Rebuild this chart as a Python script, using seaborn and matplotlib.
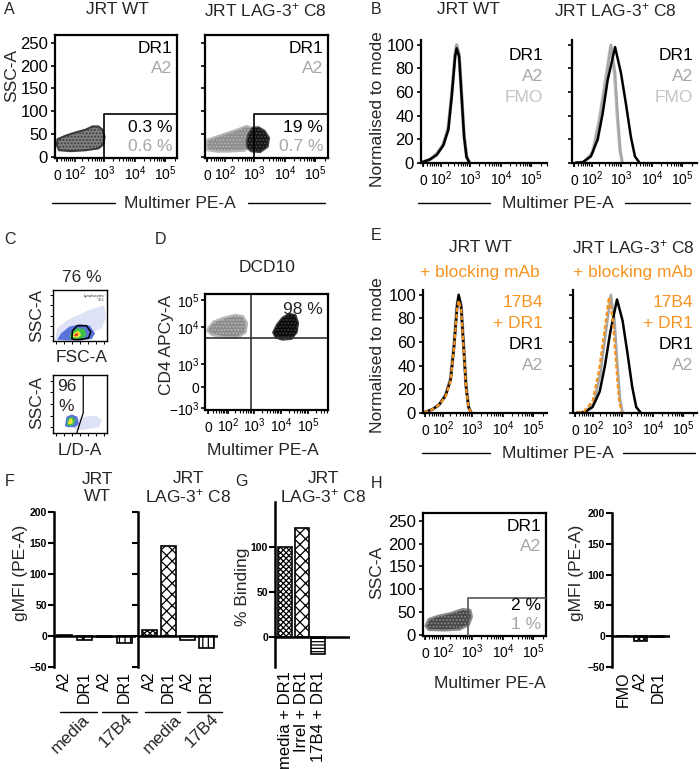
import numpy as np
import pandas as pd
import matplotlib.pyplot as plt
import seaborn as sns

W, H = 700, 769
FS = 12.5
TICK_FS = 12
XT_FS = 10
GREY = '#a6a6a6'
LGREY = '#c4c4c4'
ORANGE = '#f7931e'

# ---- axis labels ----
flow_tick_pos = [1.5, 2.08, 3, 4, 4.97]
d_tick_pos = [1.3, 2.05, 3, 4, 5]
flow_tick_lbl = ['0', r'$\mathregular{10^2}$', r'$\mathregular{10^3}$',
                 r'$\mathregular{10^4}$', r'$\mathregular{10^5}$']
d_ytick_pos = [1.0, 1.78, 2.63, 4.0, 5.0]
d_ytick_lbl = [r'$\mathregular{-10^3}$', '0', r'$\mathregular{10^3}$',
               r'$\mathregular{10^4}$', r'$\mathregular{10^5}$']
c8_name = r'LAG-3$\mathregular{^{+}}$ C8'

# ---- A: dot plots (log10 PE-A, SSC-A) ----
a_gate = [3.0, 95]
a_wt_x = [1.50, 1.77, 2.09, 2.41, 2.63, 2.82, 2.95, 3.02, 2.98, 2.82, 2.41, 1.93, 1.55, 1.48]
a_wt_y = [39, 47, 54, 60, 67, 67, 60, 45, 28, 19, 15, 13, 15, 26]
a_c8_grey_x = [1.50, 1.80, 2.10, 2.45, 2.75, 2.95, 3.00, 2.95, 2.70, 2.20, 1.80, 1.50, 1.47]
a_c8_grey_y = [38, 45, 52, 60, 68, 64, 45, 25, 14, 12, 12, 15, 28]
a_c8_dr1_x = [2.75, 2.80, 2.95, 3.15, 3.35, 3.50, 3.45, 3.20, 2.90, 2.78]
a_c8_dr1_y = [30, 50, 65, 66, 58, 42, 22, 10, 12, 20]
a_wt_pct = ['0.3 %', '0.6 %']
a_c8_pct = ['19 %', '0.7 %']

# ---- B: histograms ----
b_wt_x = [1.44, 1.71, 1.93, 2.14, 2.30, 2.41, 2.52, 2.57, 2.65, 2.73, 2.81, 2.89, 2.98]
b_wt_dr1 = [0.5, 3, 7, 15, 28, 56, 90, 97, 90, 56, 22, 5, 0.5]
b_wt_a2 = [0.5, 3, 8, 16, 30, 58, 92, 100, 92, 58, 24, 6, 0.5]
b_wt_fmo = [0.5, 3, 7, 15, 29, 57, 91, 99, 91, 57, 23, 5, 0.5]
b_c8_dr1_x = [1.55, 1.76, 2.03, 2.25, 2.41, 2.57, 2.81, 3.00, 3.16, 3.32, 3.45, 3.59]
b_c8_dr1_y = [0.3, 0.5, 5.6, 20, 42, 70, 98, 76, 50, 22, 5.6, 0.5]
b_c8_a2_x = [1.55, 1.81, 2.09, 2.30, 2.52, 2.68, 2.81, 2.89, 2.98, 3.05]
b_c8_a2_y = [0.3, 1, 8.5, 34, 70, 100, 76, 42, 11, 0.5]
b_c8_fmo_x = [1.55, 1.81, 2.07, 2.28, 2.50, 2.66, 2.79, 2.87, 2.96, 3.03]
b_c8_fmo_y = [0.3, 1, 9, 35, 72, 99, 74, 40, 10, 0.5]

# ---- C: gating (fraction of axis) ----
c1_diffuse = ([0.04, 0.08, 0.25, 0.45, 0.70, 0.95, 0.98, 0.90, 0.60, 0.30, 0.05],
              [0.02, 0.25, 0.40, 0.50, 0.62, 0.70, 0.45, 0.25, 0.10, 0.02, 0.00])
c1_blue = ([0.08, 0.15, 0.30, 0.50, 0.68, 0.78, 0.72, 0.50, 0.25],
           [0.03, 0.15, 0.28, 0.33, 0.30, 0.15, 0.04, 0.01, 0.01])
c1_green = ([0.30, 0.34, 0.45, 0.58, 0.62, 0.55, 0.38],
            [0.05, 0.18, 0.25, 0.24, 0.12, 0.04, 0.03])
c1_yellow = ([0.36, 0.40, 0.48, 0.52, 0.46], [0.08, 0.17, 0.20, 0.12, 0.06])
c1_red = ([0.39, 0.42, 0.47, 0.45], [0.10, 0.15, 0.15, 0.09])
c1_gate = ([0.35, 0.36, 0.45, 0.62, 0.70, 0.66, 0.50, 0.38, 0.35],
           [0.05, 0.20, 0.30, 0.30, 0.18, 0.06, 0.03, 0.03, 0.05])
c2_diffuse = ([0.38, 0.45, 0.60, 0.80, 0.90, 0.85, 0.60, 0.42],
              [0.08, 0.25, 0.28, 0.30, 0.22, 0.10, 0.06, 0.05])
c2_blue = ([0.22, 0.25, 0.35, 0.45, 0.48, 0.40, 0.28], [0.12, 0.28, 0.32, 0.28, 0.15, 0.10, 0.10])
c2_green = ([0.25, 0.28, 0.36, 0.42, 0.38, 0.30], [0.14, 0.26, 0.28, 0.22, 0.14, 0.12])
c2_yellow = ([0.28, 0.30, 0.35, 0.37, 0.33], [0.16, 0.24, 0.25, 0.18, 0.15])
c2_gate = ([0.56, 0.56, 0.44], [1.0, 0.35, 0.0])

# ---- D: CD4 vs multimer ----
d_quad = [2.9, 3.59]
d_grey_x = [1.30, 1.50, 1.90, 2.30, 2.60, 2.75, 2.70, 2.40, 1.90, 1.45, 1.28]
d_grey_y = [3.95, 4.20, 4.35, 4.45, 4.40, 4.15, 3.80, 3.60, 3.62, 3.70, 3.85]
d_dcd_x = [3.70, 3.85, 4.05, 4.30, 4.55, 4.65, 4.60, 4.40, 4.05, 3.80]
d_dcd_y = [3.80, 4.10, 4.35, 4.50, 4.45, 4.15, 3.80, 3.55, 3.52, 3.60]

# ---- E: histograms with blocking mAb ----
e_wt_x = [1.45, 1.72, 1.94, 2.15, 2.31, 2.42, 2.52, 2.57, 2.65, 2.73, 2.81, 2.89, 2.97]
e_wt_dr1 = [0.5, 3, 7, 15, 28, 56, 90, 100, 90, 56, 22, 5, 0.5]
e_wt_a2 = [0.5, 3, 7, 15, 29, 57, 91, 98, 91, 57, 23, 5, 0.5]
e_wt_17b4 = [0.5, 3, 7, 14, 27, 55, 88, 95, 88, 55, 21, 5, 0.5]
e_c8_dr1_x = [1.55, 1.78, 2.05, 2.28, 2.45, 2.62, 2.84, 3.02, 3.18, 3.33, 3.46, 3.60]
e_c8_dr1_y = [0.3, 0.5, 5, 18, 40, 68, 96, 78, 50, 22, 5, 0.5]
e_c8_a2_x = [1.55, 1.81, 2.09, 2.30, 2.50, 2.64, 2.76, 2.85, 2.94, 3.02]
e_c8_a2_y = [0.3, 1, 8, 33, 72, 100, 78, 42, 11, 0.5]
e_c8_17b4_x = [1.55, 1.78, 2.05, 2.26, 2.46, 2.58, 2.70, 2.80, 2.90, 2.98]
e_c8_17b4_y = [0.3, 1.5, 10, 36, 74, 98, 80, 45, 12, 0.5]

# ---- F, G, H: bars ----
f_conditions = ['media A2', 'media DR1', '17B4 A2', '17B4 DR1']
f_multimers = ['A2', 'DR1', 'A2', 'DR1']
f_groups = ['media', '17B4']
f_wt = [1.5, -6.5, -1, -11]
f_c8 = [9, 145, -6, -19]
g_conditions = ['media + DR1', 'Irrel + DR1', '17B4 + DR1']
g_binding = [100, 121, -19]
h_gate = [2.87, 82]
h_cloud_x = [1.50, 1.60, 1.90, 2.30, 2.70, 2.95, 3.00, 2.90, 2.60, 2.10, 1.60]
h_cloud_y = [20, 35, 42, 48, 57, 55, 40, 22, 12, 10, 11]
h_pct = ['2 %', '1 %']
h_conditions = ['FMO', 'A2', 'DR1']
h_gmfi = [0, -8, -0.5]

# ---------- style ----------
sns.set_theme(style="ticks")
plt.rcParams['font.family'] = ['Liberation Sans', 'DejaVu Sans']
plt.rcParams['mathtext.fontset'] = 'custom'
plt.rcParams['mathtext.rm'] = 'Liberation Sans'
plt.rcParams['mathtext.it'] = 'Liberation Sans:italic'
plt.rcParams['hatch.linewidth'] = 0.9
plt.rcParams['axes.edgecolor'] = 'black'
plt.rcParams['xtick.color'] = 'black'
plt.rcParams['ytick.color'] = 'black'

fig = plt.figure(figsize=(7, 7.69), dpi=100)


def px_axes(l, t, r, b):
    return fig.add_axes([l / W, 1 - b / H, (r - l) / W, (b - t) / H])


def ftext(x, y, s, **kw):
    kw.setdefault('ha', 'center')
    kw.setdefault('va', 'center')
    kw.setdefault('fontsize', FS)
    fig.text(x / W, 1 - y / H, s, **kw)


def fline(x0, x1, y):
    fig.add_artist(plt.Line2D([x0 / W, x1 / W], [1 - y / H, 1 - y / H],
                              color='black', lw=1.0, transform=fig.transFigure))


def flow_x(ax, width, ppd=31, left=1.42, ticks=flow_tick_pos, fs=XT_FS):
    right = left + width / ppd
    ax.set_xlim(left, right)
    ax.set_xticks(ticks)
    # baseline alignment keeps "0" level with the "10" digits
    ax.set_xticklabels(flow_tick_lbl, fontsize=fs, va='baseline')
    minors = [np.log10(k) + d for d in range(1, 6) for k in range(2, 10)]
    ax.set_xticks([m for m in minors if left < m < right], minor=True)
    ax.tick_params(axis='x', which='major', length=3, width=1.2, pad=12.5)
    ax.tick_params(axis='x', which='minor', length=2, width=0.8)
    ax.set_xlabel('')
    ax.set_ylabel('')


def box(ax, lw=1.6):
    for s in ax.spines.values():
        s.set_visible(True)
        s.set_linewidth(lw)


def cloud(ax, xs, ys, face, edge, lw=1.5):
    ax.fill(xs, ys, facecolor=face, edgecolor=edge, linewidth=lw,
            hatch='.....', joinstyle='round', zorder=2)


def corner_text(ax, rows, x=0.96):
    for y, s, col in rows:
        ax.text(x, y, s, transform=ax.transAxes, ha='right', va='center', fontsize=FS, color=col)


def dot_panel(ax, width, gate, labels, show_y):
    flow_x(ax, width)
    ax.set_ylim(-2, 267)
    ax.set_yticks([0, 50, 100, 150, 200, 250])
    ax.tick_params(axis='y', length=3, width=1.2, pad=2, labelsize=TICK_FS)
    if not show_y:
        ax.set_yticklabels([])
    box(ax)
    xmax = ax.get_xlim()[1]
    ax.plot([gate[0], gate[0], xmax], [-2, gate[1], gate[1]], color='black', lw=1.2, zorder=3)
    corner_text(ax, [(0.89, 'DR1', 'black'), (0.73, 'A2', GREY),
                     (0.25, labels[0], 'black'), (0.09, labels[1], GREY)])


def hist_panel(ax, width, curves, show_y):
    for xs, ys, col, lw, ls in curves:
        sns.lineplot(x=xs, y=ys, ax=ax, color=col, lw=lw, linestyle=ls, estimator=None, sort=False)
    flow_x(ax, width)
    ax.set_ylim(0, 104)
    ax.set_yticks([0, 20, 40, 60, 80, 100])
    ax.tick_params(axis='y', length=3, width=1.2, pad=2, labelsize=TICK_FS)
    if not show_y:
        ax.set_yticklabels([])
    sns.despine(ax=ax)
    ax.spines['left'].set_linewidth(1.6)
    ax.spines['bottom'].set_linewidth(1.6)


def bar_panel(ax, cats, vals, hatches, ylim, yticks, show_y, xlim, width=0.75):
    sns.barplot(x=cats, y=vals, ax=ax, color='white', edgecolor='black',
                linewidth=1.2, width=width, errorbar=None, order=cats)
    for patch, h in zip(ax.patches, hatches):
        patch.set_hatch(h)
    ax.set_xlim(*xlim)
    ax.set_ylim(*ylim)
    ax.set_yticks(yticks)
    ax.axhline(0, color='black', lw=1.8, zorder=5)
    sns.despine(ax=ax, bottom=True)
    ax.spines['left'].set_linewidth(1.8)
    ax.tick_params(axis='y', length=4, width=1.5, pad=1, labelsize=7.5)
    for t in ax.get_yticklabels():
        t.set_fontweight('bold')
    if not show_y:
        ax.set_yticklabels([])
    ax.tick_params(axis='x', length=0, pad=3)
    ax.set_xticks(range(len(cats)))
    ax.set_xlabel('')
    ax.set_ylabel('')


# ---------- A ----------
axA1 = px_axes(55, 35, 177, 158)
cloud(axA1, a_wt_x, a_wt_y, '#808080', '#3a3a3a')
dot_panel(axA1, 122, a_gate, a_wt_pct, True)
axA2 = px_axes(205, 35, 328, 158)
cloud(axA2, a_c8_grey_x, a_c8_grey_y, '#8c8c8c', '#b5b5b5')
cloud(axA2, a_c8_dr1_x, a_c8_dr1_y, '#151515', '#4a4a4a', lw=1.0)
dot_panel(axA2, 123, a_gate, a_c8_pct, False)
ftext(9, 9, 'A', fontsize=FS - 1)
ftext(117, 10, 'JRT WT')
ftext(265, 10, 'JRT ' + c8_name)
ftext(12, 75, 'SSC-A', rotation=90)
ftext(180, 203, 'Multimer PE-A')
fline(52, 115, 203)
fline(248, 325, 203)

# ---------- B ----------
axB1 = px_axes(421, 40, 547, 163)
hist_panel(axB1, 126, [(b_wt_x, b_wt_fmo, LGREY, 2.5, '-'),
                       (b_wt_x, b_wt_a2, GREY, 2.2, '-'),
                       (b_wt_x, b_wt_dr1, 'black', 1.8, '-')], True)
axB2 = px_axes(572, 40, 697, 163)
hist_panel(axB2, 125, [(b_c8_fmo_x, b_c8_fmo_y, LGREY, 2.0, '-'),
                       (b_c8_a2_x, b_c8_a2_y, GREY, 1.8, '-'),
                       (b_c8_dr1_x, b_c8_dr1_y, 'black', 1.8, '-')], False)
for ax in (axB1, axB2):
    corner_text(ax, [(0.87, 'DR1', 'black'), (0.70, 'A2', GREY), (0.53, 'FMO', LGREY)], x=0.97)
ftext(376, 9, 'B', fontsize=FS - 1)
ftext(468, 10, 'JRT WT')
ftext(615, 10, 'JRT ' + c8_name)
ftext(378, 109, 'Normalised to mode', rotation=90)
ftext(558, 203, 'Multimer PE-A')
fline(418, 490, 203)
fline(625, 690, 203)

# ---------- C ----------
palette = {'diffuse': '#dde2f6', 'blue': '#5a72dc', 'green': '#3cc04a',
           'yellow': '#f0e23a', 'red': '#e23a22'}
axC1 = px_axes(53, 290, 107, 341)
for poly, key in [(c1_diffuse, 'diffuse'), (c1_blue, 'blue'), (c1_green, 'green'),
                  (c1_yellow, 'yellow'), (c1_red, 'red')]:
    axC1.fill(poly[0], poly[1], color=palette[key], lw=0)
axC1.plot(c1_gate[0], c1_gate[1], color='black', lw=1.1)
axC1.text(0.95, 0.93, 'Lymphocytes\n76.1', transform=axC1.transAxes, ha='right', va='top', fontsize=2.5)
axC2 = px_axes(53, 375, 107, 433)
for poly, key in [(c2_diffuse, 'diffuse'), (c2_blue, 'blue'), (c2_green, 'green'),
                  (c2_yellow, 'yellow')]:
    axC2.fill(poly[0], poly[1], color=palette[key], lw=0)
axC2.plot(c2_gate[0], c2_gate[1], color='black', lw=0.9)
axC2.text(0.07, 0.80, '96', transform=axC2.transAxes, ha='left', va='center', fontsize=FS)
axC2.text(0.10, 0.45, '%', transform=axC2.transAxes, ha='left', va='center', fontsize=FS)
for ax in (axC1, axC2):
    ax.set_xlim(0, 1)
    ax.set_ylim(0, 1)
    ax.set_xticks(np.linspace(0.05, 0.95, 7))
    ax.set_yticks(np.linspace(0.1, 0.9, 5))
    ax.set_xticklabels([])
    ax.set_yticklabels([])
    ax.tick_params(length=2, width=0.7)
    box(ax, 1.0)
ftext(10, 239, 'C', fontsize=FS - 1)
ftext(82, 277, '76 %')
ftext(37, 315, 'SSC-A', rotation=90)
ftext(82, 358, 'FSC-A')
ftext(37, 402, 'SSC-A', rotation=90)
ftext(80, 450, 'L/D-A')

# ---------- D ----------
axD = px_axes(205, 294, 328, 410)
cloud(axD, d_grey_x, d_grey_y, '#8a8a8a', '#b8b8b8')
cloud(axD, d_dcd_x, d_dcd_y, '#0a0a0a', '#3a3a3a', lw=1.0)
flow_x(axD, 123, ppd=27, left=1.19, ticks=d_tick_pos, fs=XT_FS)
axD.set_ylim(0.93, 5.22)
axD.set_yticks(d_ytick_pos)
axD.set_yticklabels(d_ytick_lbl, fontsize=XT_FS)
axD.tick_params(axis='y', length=3, width=1.2, pad=1)
axD.axvline(d_quad[0], color='#333333', lw=1.2)
axD.axhline(d_quad[1], color='#333333', lw=1.2)
box(axD)
axD.text(0.96, 0.87, '98 %', transform=axD.transAxes, ha='right', va='center', fontsize=FS)
ftext(160, 239, 'D', fontsize=FS - 1)
ftext(267, 267, 'DCD10')
ftext(166, 345, 'CD4 APCy-A', rotation=90)
ftext(263, 450, 'Multimer PE-A')

# ---------- E ----------
axE1 = px_axes(423, 290, 547, 413)
hist_panel(axE1, 124, [(e_wt_x, e_wt_a2, GREY, 2.5, '-'),
                       (e_wt_x, e_wt_dr1, 'black', 1.8, '-'),
                       (e_wt_x, e_wt_17b4, ORANGE, 1.6, (0, (2, 1)))], True)
axE2 = px_axes(573, 290, 697, 413)
hist_panel(axE2, 124, [(e_c8_a2_x, e_c8_a2_y, GREY, 1.8, '-'),
                       (e_c8_dr1_x, e_c8_dr1_y, 'black', 1.8, '-'),
                       (e_c8_17b4_x, e_c8_17b4_y, ORANGE, 1.6, (0, (2, 1)))], False)
for ax in (axE1, axE2):
    corner_text(ax, [(0.90, '17B4', ORANGE), (0.73, '+ DR1', ORANGE),
                     (0.56, 'DR1', 'black'), (0.39, 'A2', GREY)], x=0.97)
ftext(376, 235, 'E', fontsize=FS - 1)
ftext(480, 247, 'JRT WT')
ftext(480, 272, '+ blocking mAb', color=ORANGE)
ftext(633, 247, 'JRT ' + c8_name)
ftext(633, 272, '+ blocking mAb', color=ORANGE)
ftext(378, 355, 'Normalised to mode', rotation=90)
ftext(558, 453, 'Multimer PE-A')
fline(422, 490, 453)
fline(623, 695, 453)

# ---------- F ----------
f_hatch = ['xxxxxx', 'xxx', '---', '|||']
axF1 = px_axes(54, 512, 136, 667)
bar_panel(axF1, f_conditions, f_wt, f_hatch, (-50, 200), [-50, 0, 50, 100, 150, 200], True, (-0.55, 3.6))
axF2 = px_axes(138, 512, 218, 667)
bar_panel(axF2, f_conditions, f_c8, f_hatch, (-50, 200), [-50, 0, 50, 100, 150, 200], False, (-0.6, 3.6))
for ax in (axF1, axF2):
    ax.set_xticklabels(f_multimers, rotation=90, fontsize=11.5)
ftext(10, 482, 'F', fontsize=FS - 1)
ftext(97, 488, 'JRT\nWT', linespacing=1.1)
ftext(188, 488, 'JRT\n' + c8_name, linespacing=1.1)
ftext(21, 573, 'gMFI (PE-A)', rotation=90)
for (x0, x1), (cx, cy), grp in zip([(60, 97), (102, 137), (145, 180), (187, 222)],
                                   [(70, 734), (116, 730), (162, 734), (202, 730)], f_groups * 2):
    fline(x0, x1, 712)
    ftext(cx, cy, grp, rotation=45)

# ---------- G ----------
axG = px_axes(275, 502, 350, 667)
bar_panel(axG, g_conditions, g_binding, ['xxxxxx', 'xxx', '-----'], (-33, 150), [0, 50, 100], True,
          (-0.6, 3.9), width=0.85)
axG.set_xticklabels(g_conditions, rotation=90, fontsize=12)
ftext(241, 482, 'G', fontsize=FS - 1)
ftext(323, 488, 'JRT\n' + c8_name, linespacing=1.1)
ftext(243, 587, '% Binding', rotation=90)

# ---------- H ----------
axH1 = px_axes(423, 513, 546, 636)
cloud(axH1, h_cloud_x, h_cloud_y, '#474747', '#8a8a8a')
dot_panel(axH1, 123, h_gate, h_pct, True)
for ln in axH1.lines:
    ln.set_color('#555555')
ftext(376, 483, 'H', fontsize=FS - 1)
ftext(377, 572, 'SSC-A', rotation=90)
ftext(490, 683, 'Multimer PE-A')
axH2 = px_axes(612, 513, 670, 667)
bar_panel(axH2, h_conditions, h_gmfi, ['', 'xxxxxx', ''], (-50, 200), [-50, 0, 50, 100, 150, 200], True,
          (-0.63, 2.69))
axH2.set_xticklabels(h_conditions, rotation=90, fontsize=11.5)
ftext(577, 573, 'gMFI (PE-A)', rotation=90)

fig.savefig('out.png', dpi=100)
